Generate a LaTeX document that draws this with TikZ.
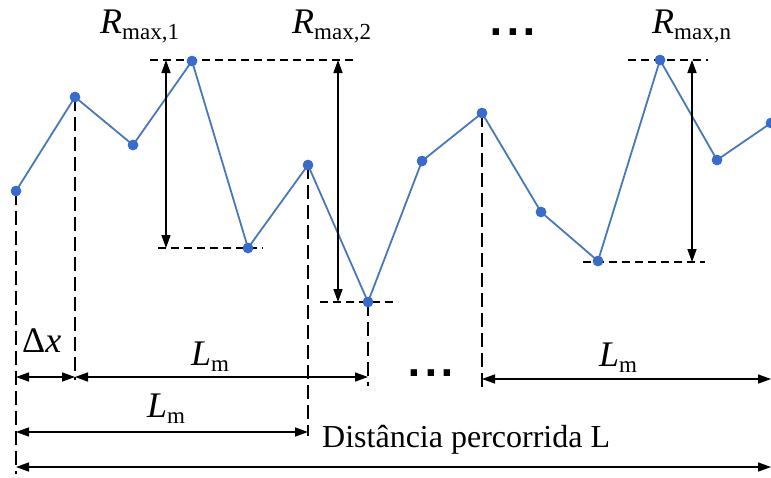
\documentclass[tikz,border=0pt]{standalone}
\usepackage{fontspec}
\setmainfont{Liberation Serif}
\newfontfamily\dotfont{DejaVu Sans}
\usetikzlibrary{arrows.meta}
\definecolor{curveblue}{RGB}{72,120,185}
\definecolor{dotblue}{RGB}{55,108,205}
\newcommand\subtxt[1]{\raisebox{-0.18em}{\fontsize{23}{23}\selectfont #1}}
\tikzset{
  pt/.style={circle,fill=dotblue,inner sep=0pt,minimum size=10.5pt},
  curve/.style={curveblue,line width=1.8pt,line join=round},
  vdash/.style={black,line width=1.5pt,dash pattern=on 14pt off 6pt},
  hdash/.style={black,line width=1.5pt,dash pattern=on 8pt off 5pt},
  dim/.style={black,line width=1.4pt,{Triangle[length=13pt,width=9pt]}-{Triangle[length=13pt,width=9pt]}},
  lab/.style={anchor=base west,inner sep=0pt,font=\fontsize{36}{36}\selectfont},
  dlab/.style={anchor=base west,inner sep=0pt,font=\fontsize{32}{32}\selectfont},
  ell/.style={inner sep=0pt,font=\dotfont\bfseries\fontsize{36}{36}\selectfont}
}
\begin{document}
\begin{tikzpicture}[x=1pt,y=-1pt]
\useasboundingbox (0,0) rectangle (771,477);
% profile points
\node[pt] (p1) at (16,191) {};
\node[pt] (p2) at (75,97) {};
\node[pt] (p3) at (133,145) {};
\node[pt] (p4) at (192,61) {};
\node[pt] (p5) at (248,248) {};
\node[pt] (p6) at (308,165) {};
\node[pt] (p7) at (368,302) {};
\node[pt] (p8) at (422,161) {};
\node[pt] (p9) at (482,113) {};
\node[pt] (p10) at (541,212) {};
\node[pt] (p11) at (598,261) {};
\node[pt] (p12) at (660,60) {};
\node[pt] (p13) at (717,160) {};
\node[pt] (p14) at (771,123) {};
% dashed verticals
\coordinate (v1) at (16,474);
\coordinate (v2) at (75,380);
\coordinate (v6) at (308,436);
\coordinate (v7) at (368,386);
\coordinate (v9) at (482,391);
\draw[vdash] (p1.center) -- (v1);
\draw[vdash] (p2.center) -- (v2);
\draw[vdash] (p6.center) -- (v6);
\draw[vdash] (p7.center) -- (v7);
\draw[vdash] (p9.center) -- (v9);
% dashed horizontals
\coordinate (t1a) at (150,60); \coordinate (t1b) at (357,60);
\coordinate (b1a) at (158,248); \coordinate (b1b) at (263,248);
\coordinate (b2a) at (320,302); \coordinate (b2b) at (398,302);
\coordinate (tna) at (628,60); \coordinate (tnb) at (708,60);
\coordinate (bna) at (583,262); \coordinate (bnb) at (705,262);
\draw[hdash] (t1a) -- (t1b);
\draw[hdash] (b1a) -- (b1b);
\draw[hdash] (b2a) -- (b2b);
\draw[hdash] (tna) -- (tnb);
\draw[hdash] (bna) -- (bnb);
% profile curve
\draw[curve] (p1.center) -- (p2.center) -- (p3.center) -- (p4.center) -- (p5.center) -- (p6.center) -- (p7.center) -- (p8.center) -- (p9.center) -- (p10.center) -- (p11.center) -- (p12.center) -- (p13.center) -- (p14.center);
\foreach \i in {1,...,14} {\node[pt] at (p\i) {};}
% Rmax arrows
\coordinate (r1t) at (166,60); \coordinate (r1b) at (166,248);
\coordinate (r2t) at (338,60); \coordinate (r2b) at (338,302);
\coordinate (rnt) at (692,60); \coordinate (rnb) at (692,262);
\draw[dim] (r1t) -- (r1b);
\draw[dim] (r2t) -- (r2b);
\draw[dim] (rnt) -- (rnb);
% horizontal dimension arrows
\coordinate (dxa) at (16,377); \coordinate (dxb) at (75,377);
\coordinate (m1b) at (368,377);
\coordinate (m2a) at (16,432); \coordinate (m2b) at (308,432);
\coordinate (m3a) at (482,379); \coordinate (m3b) at (771,379);
\coordinate (La) at (16,467); \coordinate (Lb) at (771,467);
\draw[dim] (dxa) -- (dxb);
\draw[dim] (dxb) -- (m1b);
\draw[dim] (m2a) -- (m2b);
\draw[dim] (m3a) -- (m3b);
\draw[dim] (La) -- (Lb);
% labels
\node[lab] (R1) at (100,33) {\textit{R}\subtxt{max,1}};
\node[lab] (R2) at (292,33) {\textit{R}\subtxt{max,2}};
\node[lab] (Rn) at (652,33) {\textit{R}\subtxt{max,n}};
\node[ell] (e1) at (513,32) {.\kern3pt.\kern3pt.};
\node[ell] (e2) at (431,373) {.\kern3pt.\kern3pt.};
\node[lab] (dx) at (22,352) {Δ\textit{x}};
\node[lab] (Lm1) at (191,365) {\textit{L}\subtxt{m}};
\node[lab] (Lm2) at (147,417) {\textit{L}\subtxt{m}};
\node[lab] (Lm3) at (599,366) {\textit{L}\subtxt{m}};
\node[dlab] (Ld) at (322,447) {Distância percorrida L};
\end{tikzpicture}
\end{document}
